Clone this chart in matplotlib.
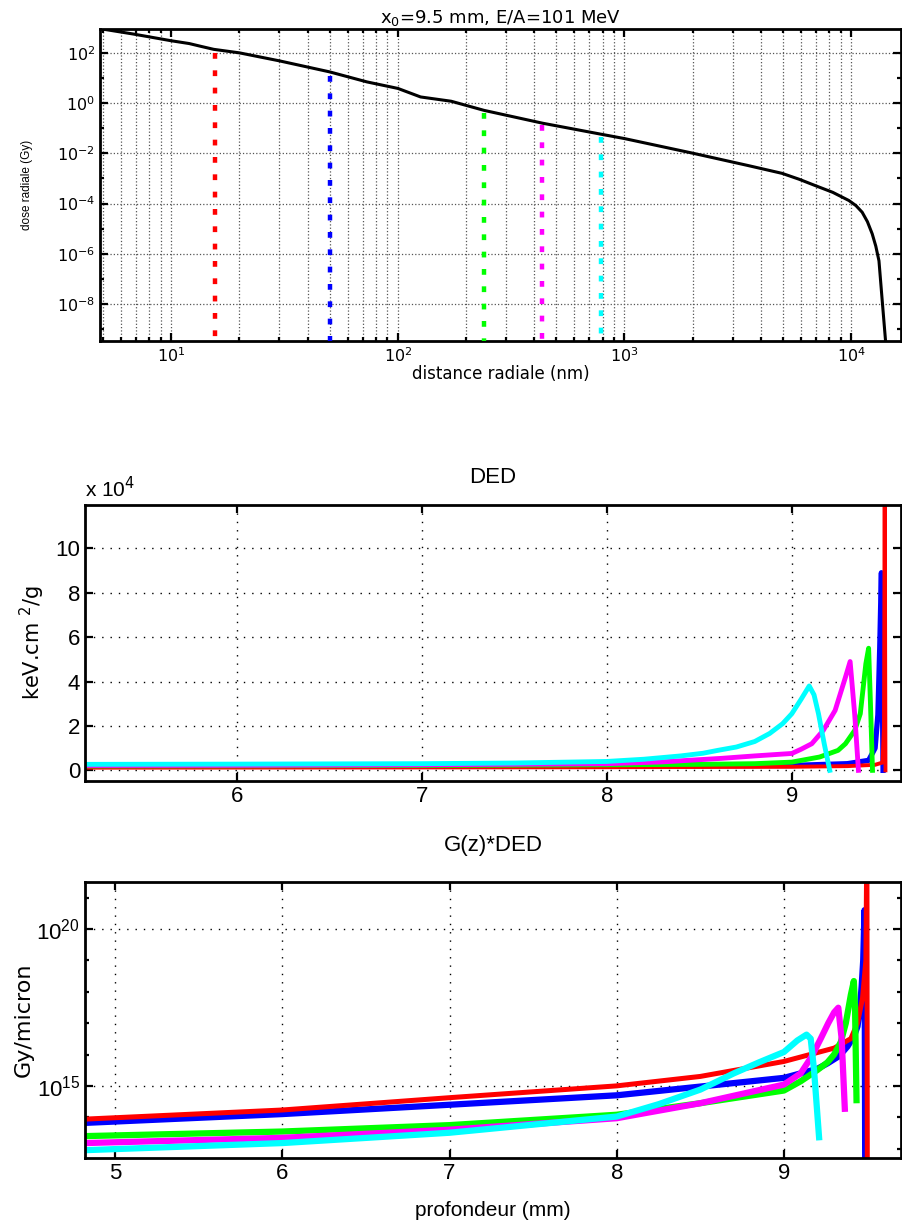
import numpy as np
import matplotlib
matplotlib.use("Agg")
import matplotlib.pyplot as plt
from matplotlib import font_manager
from matplotlib.ticker import FixedLocator, FuncFormatter, NullFormatter, LogFormatterMathtext

# --- top panel: radial dose profile (log-log) -----------------------------
r_nm = [5, 6.8, 10, 12, 13.5, 15.4, 20, 30, 50, 73, 100, 126, 172, 240, 435, 790,
        1000, 2000, 3500, 4960, 5900, 6950, 8300, 9780, 10500, 11190, 11800, 12390,
        12850, 13270, 13720, 14190, 14400]
dose_gy = [900, 575, 310, 240, 186, 141, 102, 49, 17.8, 7.1, 3.9, 1.78, 1.2, 0.52,
           0.16, 0.058, 0.039, 0.0102, 3.3e-3, 1.6e-3, 9.3e-4, 5.2e-4, 2.8e-4,
           1.32e-4, 8.3e-5, 4.5e-5, 1.9e-5, 6.2e-6, 2e-6, 5.2e-7, 1.3e-8, 3.3e-10, 1e-11]
marker_r = [15.6, 50, 240, 432, 785]
marker_top = [100, 12, 0.4, 0.13, 0.045]
colors = ["#ff0000", "#0000ff", "#00ff00", "#ff00ff", "#00ffff"]

# --- middle panel: DED (keV.cm2/g) ----------------------------------------
ded_red_x = [5.18, 6, 7, 8, 9, 9.3, 9.45, 9.49, 9.498, 9.502, 9.506]
ded_red_y = [1200, 1250, 1300, 1400, 1600, 1900, 2500, 3500, 20000, 130000, 0]
ded_blue_x = [5.18, 6, 7, 8, 8.5, 9.0, 9.3, 9.415, 9.45, 9.465, 9.475, 9.484, 9.493]
ded_blue_y = [1900, 1950, 2000, 2100, 2150, 2200, 3000, 4500, 10000, 25000, 55000,
              89000, 0]
ded_green_x = [5.18, 6, 7, 8, 8.5, 8.8, 9.0, 9.15, 9.25, 9.29, 9.34, 9.37, 9.40, 9.415,
               9.425, 9.436]
ded_green_y = [2000, 2050, 2200, 2500, 2700, 3000, 3700, 6000, 9000, 12000, 18000,
               25500, 48000, 55000, 30000, 0]
ded_magenta_x = [5.18, 6, 7, 8, 8.3, 8.62, 8.8, 9.0, 9.05, 9.108, 9.17, 9.234, 9.29,
                 9.315, 9.34, 9.36]
ded_magenta_y = [2200, 2250, 2500, 3000, 3800, 5400, 6500, 7600, 9500, 12000, 18000,
                 27000, 42000, 49000, 25000, 0]
ded_cyan_x = [5.18, 6, 7, 7.5, 8, 8.2, 8.4, 8.52, 8.6, 8.7, 8.8, 8.88, 8.95, 9.0, 9.05,
              9.094, 9.12, 9.144, 9.175, 9.205]
ded_cyan_y = [2700, 2800, 3000, 3300, 4000, 5000, 6500, 7700, 9000, 10500, 13000,
              16600, 21000, 25500, 32000, 38000, 34000, 25500, 12000, 0]

# --- bottom panel: G(z)*DED (Gy/micron) -----------------------------------
g_red_x = [4.82, 6, 7, 8, 8.5, 9.0, 9.3, 9.4, 9.44, 9.47, 9.49, 9.496, 9.499]
g_red_y = [8.7e13, 1.7e14, 4.2e14, 1.0e15, 2.0e15, 6.0e15, 1.6e16, 3.2e16, 1e17,
           6.3e17, 1e19, 1e23, 1e10]
g_blue_x = [4.82, 6, 7, 8, 8.5, 9.0, 9.1, 9.2, 9.26, 9.33, 9.38, 9.42, 9.44, 9.455,
            9.465, 9.474, 9.482, 9.487]
g_blue_y = [6.6e13, 1.26e14, 2.5e14, 5e14, 9.5e14, 1.8e15, 2.5e15, 3.5e15, 5.2e15,
            8.9e15, 1.8e16, 4e16, 7.9e16, 3.2e17, 1.6e18, 1e19, 4e20, 1e10]
g_green_x = [4.82, 6, 7, 8, 8.5, 9.0, 9.1, 9.2, 9.26, 9.3, 9.34, 9.37, 9.40, 9.418,
             9.425, 9.434]
g_green_y = [2.5e13, 3.5e13, 5.6e13, 1.2e14, 2.8e14, 7.1e14, 1.4e15, 3.2e15, 5.6e15,
             1e16, 2.5e16, 1e17, 8e17, 2.2e18, 3.2e17, 3.5e14]
g_magenta_x = [4.82, 6, 7, 8, 8.5, 9.0, 9.1, 9.165, 9.22, 9.265, 9.30, 9.325, 9.345,
               9.364]
g_magenta_y = [1.5e13, 2.2e13, 4e13, 9.3e13, 2.8e14, 1.1e15, 2.5e15, 8.5e15, 3.2e16,
               1e17, 2.2e17, 3.1e17, 3.2e16, 1.86e14]
g_cyan_x = [4.82, 6, 7, 8, 8.25, 8.5, 8.7, 8.85, 9.0, 9.08, 9.135, 9.16, 9.18, 9.21]
g_cyan_y = [8.9e12, 1.5e13, 3.2e13, 1.05e14, 2.6e14, 7.6e14, 2.5e15, 5.6e15, 1.2e16,
            2.8e16, 4.3e16, 3.2e16, 3.2e15, 2.3e13]

sans = dict(family=["Liberation Sans", "DejaVu Sans"])
wide = dict(family="DejaVu Sans")

plt.rcParams["axes.linewidth"] = 2.0
plt.rcParams["xtick.direction"] = "in"
plt.rcParams["ytick.direction"] = "in"

fig = plt.figure(figsize=(9.02, 12.22), dpi=100)
W, H = 902.0, 1222.0


def place(left, top, right, bottom):
    return fig.add_axes([left / W, 1 - bottom / H, (right - left) / W, (bottom - top) / H])


def style(ax, fs, font):
    ax.tick_params(which="both", top=True, right=True, width=1.6)
    ax.tick_params(which="major", length=6, labelsize=fs)
    ax.tick_params(which="minor", length=3)
    for lab in ax.get_xticklabels() + ax.get_yticklabels():
        lab.set_fontproperties(font_manager.FontProperties(size=fs, **font))


# ---------------- top ----------------
ax1 = place(100, 29, 901, 341)
ax1.set_xscale("log")
ax1.set_yscale("log")
ax1.set_xlim(4.85, 16600)
ax1.set_ylim(10 ** -9.48, 10 ** 2.96)
ax1.yaxis.set_major_locator(FixedLocator([1e-8, 1e-6, 1e-4, 1e-2, 1e0, 1e2]))
ax1.yaxis.set_minor_locator(FixedLocator([1e-9, 1e-7, 1e-5, 1e-3, 1e-1, 1e1]))
ax1.yaxis.set_major_formatter(LogFormatterMathtext())
ax1.yaxis.set_minor_formatter(NullFormatter())
ax1.grid(True, which="major", axis="both", color="#555555", linestyle=":", linewidth=0.9)
ax1.grid(True, which="minor", axis="x", color="#555555", linestyle=":", linewidth=0.9)
ax1.plot(r_nm, dose_gy, color="black", linewidth=2.2, zorder=4)
for r, top, c in zip(marker_r, marker_top, colors):
    ax1.plot([r, r], [top, 1e-12], color=c, linewidth=3.2,
             linestyle=(0, (1.3, 2.6)), solid_capstyle="butt", zorder=3)
ax1.set_title("x$_0$=9.5 mm, E/A=101 MeV", fontsize=13, pad=4, **wide)
ax1.set_xlabel("distance radiale (nm)", fontsize=12, labelpad=0, **wide)
ax1.set_ylabel("dose radiale (Gy)", fontsize=8.5, labelpad=17, **sans)
style(ax1, 11.5, wide)

# ---------------- middle ----------------
ax2 = place(85, 505, 901, 781)
ax2.set_xlim(5.18, 9.59)
ax2.set_ylim(-4800, 119500)
ax2.xaxis.set_major_locator(FixedLocator([6, 7, 8, 9]))
ax2.yaxis.set_major_locator(FixedLocator([0, 20000, 40000, 60000, 80000, 100000]))
ax2.yaxis.set_major_formatter(FuncFormatter(lambda v, p: "%d" % round(v / 1e4)))
ax2.grid(True, color="black", linestyle=(0, (1, 5)), linewidth=1.0)
ded = [(ded_blue_x, ded_blue_y, colors[1], 3.8), (ded_red_x, ded_red_y, colors[0], 2.8),
       (ded_green_x, ded_green_y, colors[2], 3.5), (ded_magenta_x, ded_magenta_y, colors[3], 3.5),
       (ded_cyan_x, ded_cyan_y, colors[4], 3.5)]
for x, y, c, lw in ded:
    ax2.plot(x, y, color=c, linewidth=lw, solid_joinstyle="round")
ax2.set_title("DED", fontsize=16, pad=16, **sans)
ax2.text(0.0, 1.012, "x 10$^{4}$", transform=ax2.transAxes, fontsize=15,
         ha="left", va="bottom", **sans)
ax2.set_ylabel("keV.cm $^{2}$/g", fontsize=15, labelpad=6, **wide)
style(ax2, 16, sans)

# ---------------- bottom ----------------
ax3 = place(85, 882, 901, 1158)
ax3.set_yscale("log")
ax3.set_xlim(4.82, 9.70)
ax3.set_ylim(10 ** 12.7, 10 ** 21.5)
ax3.xaxis.set_major_locator(FixedLocator([5, 6, 7, 8, 9]))
ax3.yaxis.set_major_locator(FixedLocator([1e15, 1e20]))
ax3.yaxis.set_minor_locator(FixedLocator([10.0 ** k for k in range(13, 22)]))
ax3.yaxis.set_major_formatter(LogFormatterMathtext())
ax3.yaxis.set_minor_formatter(NullFormatter())
ax3.grid(True, which="major", color="black", linestyle=(0, (1, 5)), linewidth=1.0)
gz = [(g_blue_x, g_blue_y, colors[1], 4.5), (g_red_x, g_red_y, colors[0], 3.6),
      (g_green_x, g_green_y, colors[2], 4.5), (g_magenta_x, g_magenta_y, colors[3], 4.5),
      (g_cyan_x, g_cyan_y, colors[4], 4.5)]
for x, y, c, lw in gz:
    ax3.plot(x, y, color=c, linewidth=lw, solid_joinstyle="round")
ax3.set_title("G(z)*DED", fontsize=16, pad=22, **sans)
ax3.set_xlabel("profondeur (mm)", fontsize=15, labelpad=12, **sans)
ax3.set_ylabel("Gy/micron", fontsize=16, labelpad=2, **wide)
style(ax3, 16, sans)

fig.savefig("out.png", dpi=100)
